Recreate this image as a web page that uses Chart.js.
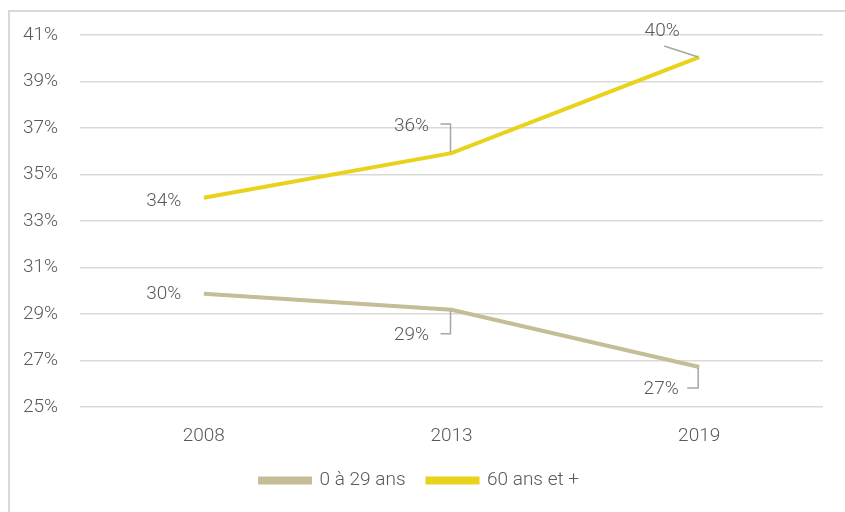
<!DOCTYPE html>
<html lang="fr">
<head>
    <meta charset="UTF-8">
    <title>Part de la population par âge</title>
    <script src="https://cdn.jsdelivr.net/npm/chart.js"></script>
    <style>
        body {
            margin: 0;
            background: #fff;
            overflow: hidden;
        }
        #wrap {
            position: relative;
            width: 845px;
            height: 512px;
        }
        #frame {
            position: absolute;
            left: 8px;
            top: 10px;
            width: 845px;
            height: 520px;
            border-left: 2px solid #d9d9d9;
            border-top: 2px solid #d9d9d9;
            pointer-events: none;
        }
    </style>
</head>
<body>
<div id="wrap">
    <canvas id="chart" width="845" height="512"></canvas>
    <div id="frame"></div>
</div>

<script>
    // data
    const years = ["2008", "2013", "2019"];
    const young = [29.87, 29.18, 26.72];   // 0 à 29 ans
    const senior = [34.0, 35.92, 40.05];   // 60 ans et +
    const yTicks = [25, 27, 29, 31, 33, 35, 37, 39, 41];

    const textColor = "#595959";
    const fontFamily = "Roboto, 'DejaVu Sans', sans-serif";
    const fontSize = 19;

    // label placement: [dx, dy] of text centre relative to the point, and leader line points (relative)
    const labelPos = [
        [ // 0 à 29 ans
            { dx: -40, dy: 0, leader: null },
            { dx: -40, dy: 25, leader: [[-11, 24], [-1, 24], [-1, 1]] },
            { dx: -38, dy: 22, leader: [[-12, 21], [-1, 21], [-1, 1]] }
        ],
        [ // 60 ans et +
            { dx: -40, dy: 3, leader: null },
            { dx: -40, dy: -27, leader: [[-11, -29], [-1, -29], [-1, -1]] },
            { dx: -37, dy: -26, leader: [[-35, -11], [-1, 0]] }
        ]
    ];

    const pointLabels = {
        id: "pointLabels",
        afterDatasetsDraw(chart) {
            const ctx = chart.ctx;
            ctx.save();
            ctx.font = "300 " + fontSize + "px " + fontFamily;
            ctx.fillStyle = textColor;
            ctx.textAlign = "center";
            ctx.textBaseline = "middle";
            chart.data.datasets.forEach((ds, i) => {
                chart.getDatasetMeta(i).data.forEach((pt, j) => {
                    const p = labelPos[i][j];
                    if (p.leader) {
                        ctx.beginPath();
                        ctx.strokeStyle = "#a6a6a6";
                        ctx.lineWidth = 1.5;
                        p.leader.forEach((q, k) => {
                            if (k === 0) ctx.moveTo(pt.x + q[0], pt.y + q[1]);
                            else ctx.lineTo(pt.x + q[0], pt.y + q[1]);
                        });
                        ctx.stroke();
                    }
                    ctx.fillText(Math.round(ds.data[j]) + "%", pt.x + p.dx, pt.y + p.dy);
                });
            });
            ctx.restore();
        }
    };

    const tickFont = { family: fontFamily, size: fontSize, weight: "300" };

    new Chart(document.getElementById("chart"), {
        type: "line",
        data: {
            labels: years,
            datasets: [
                { label: "0 à 29 ans", data: young, borderColor: "#c4bd97", backgroundColor: "#c4bd97", borderWidth: 4, pointRadius: 0, tension: 0 },
                { label: "60 ans et +", data: senior, borderColor: "#e8d21b", backgroundColor: "#e8d21b", borderWidth: 4, pointRadius: 0, tension: 0 }
            ]
        },
        options: {
            responsive: false,
            animation: false,
            layout: { padding: { top: 35, right: 22, bottom: 12, left: 16 } },
            plugins: {
                tooltip: { enabled: false },
                legend: {
                    position: "bottom",
                    labels: {
                        color: textColor,
                        font: tickFont,
                        boxWidth: 50,
                        boxHeight: 4,
                        padding: 22
                    }
                }
            },
            scales: {
                x: {
                    offset: true,
                    grid: { display: false, drawTicks: false },
                    border: { display: false },
                    ticks: { color: textColor, font: tickFont, padding: 18 },
                    afterFit(scale) { scale.height = 42; }
                },
                y: {
                    min: 25,
                    max: 41,
                    afterBuildTicks(scale) { scale.ticks = yTicks.map(v => ({ value: v })); },
                    grid: { color: "#d9d9d9", lineWidth: 1.5, drawTicks: false },
                    border: { display: false },
                    ticks: {
                        color: textColor,
                        font: tickFont,
                        padding: 22,
                        callback: v => v + "%"
                    },
                    afterFit(scale) { scale.width = 64; }
                }
            }
        },
        plugins: [pointLabels]
    });
</script>
</body>
</html>
